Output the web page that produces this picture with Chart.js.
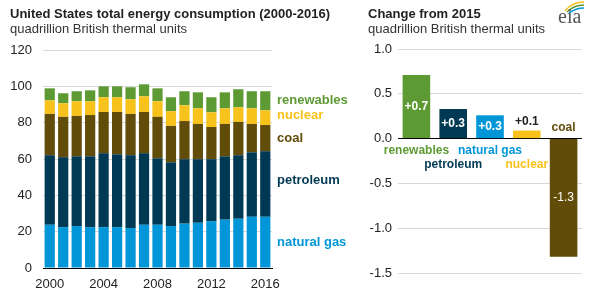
<!DOCTYPE html>
<html>
<head>
<meta charset="utf-8">
<script src="https://cdn.jsdelivr.net/npm/chart.js@4.4.1/dist/chart.umd.min.js"></script>
<style>
  body { margin: 0; background: #fff; font-family: "Liberation Sans", Arial, sans-serif; }
  #wrap { position: relative; width: 593px; height: 296px; overflow: hidden; }
  .title { position: absolute; font-weight: bold; font-size: 13px; color: #222; line-height: 15px; white-space: nowrap; }
  .sub { position: absolute; font-size: 13px; color: #333; line-height: 15px; white-space: nowrap; }
  canvas { position: absolute; top: 0; }
</style>
</head>
<body>
<div id="wrap">
  <canvas id="leftChart" width="360" height="296" style="left:0"></canvas>
  <canvas id="rightChart" width="233" height="296" style="left:360px"></canvas>
  <div class="title" style="left:10px;top:6px">United States total energy consumption (2000-2016)</div>
  <div class="sub" style="left:10px;top:21px">quadrillion British thermal units</div>
  <div class="title" style="left:368px;top:6px">Change from 2015</div>
  <div class="sub" style="left:368px;top:21px">quadrillion British thermal units</div>
  <svg style="position:absolute;left:556px;top:0" width="32" height="26">
    <path d="M9 11 Q16 2 28 2" stroke="#f5c21b" stroke-width="1.6" fill="none"/>
    <path d="M11 12 Q18 5 28 5" stroke="#5d9732" stroke-width="1.6" fill="none"/>
    <path d="M13 13 Q20 8 28 8" stroke="#0096d7" stroke-width="1.6" fill="none"/>
    <text x="2" y="23" font-family="Liberation Serif, serif" font-size="20" fill="#555">eia</text>
  </svg>
</div>
<script>
// total consumption by source, quadrillion Btu
var years = ['2000', '2001', '2002', '2003', '2004', '2005', '2006', '2007', '2008',
             '2009', '2010', '2011', '2012', '2013', '2014', '2015', '2016'];
var natGas     = [23.8, 22.5, 23.1, 22.5, 22.5, 22.5, 22.0, 23.8, 23.8, 23.1, 24.4, 24.9, 25.8, 26.6, 27.1, 28.2, 28.2];
var petroleum  = [38.3, 38.5, 38.4, 39.0, 40.7, 40.1, 40.1, 39.4, 36.6, 35.1, 35.5, 35.0, 34.1, 34.9, 35.0, 35.5, 36.1];
var coal       = [22.7, 22.2, 22.2, 22.7, 22.7, 23.3, 22.7, 22.7, 22.8, 20.0, 21.0, 19.4, 17.7, 17.8, 18.3, 15.6, 14.4];
var nuclear    = [7.5, 7.5, 8.1, 7.6, 8.1, 8.1, 8.1, 8.6, 8.6, 8.1, 8.7, 8.6, 8.1, 8.6, 8.1, 8.6, 8.1];
var renewables = [6.6, 5.5, 5.5, 6.0, 6.0, 6.0, 6.6, 6.6, 7.1, 7.7, 7.7, 8.8, 8.3, 8.8, 9.9, 9.4, 10.5];

// change from 2015
var changeCats   = ['renewables', 'petroleum', 'natural gas', 'nuclear', 'coal'];
var changeValues = [0.71, 0.33, 0.26, 0.09, -1.32];

var fam = '"Liberation Sans", Arial, sans-serif';
var colors = {
    'natural gas': '#0096d7',
    'petroleum': '#003953',
    'coal': '#624c09',
    'nuclear': '#f6c21b',
    'renewables': '#5e9a34'
};

// series names to the right of the last stacked bar
var seriesLabels = {
    id: 'seriesLabels',
    afterDatasetsDraw: function(chart) {
        var ctx = chart.ctx;
        var nudge = { 'nuclear': -2, 'petroleum': -4 };
        ctx.save();
        ctx.font = 'bold 13px ' + fam;
        ctx.textAlign = 'left';
        ctx.textBaseline = 'middle';
        chart.data.datasets.forEach(function(ds, i) {
            var meta = chart.getDatasetMeta(i);
            var bar = meta.data[meta.data.length - 1];
            ctx.fillStyle = ds.backgroundColor;
            ctx.fillText(ds.label, chart.chartArea.right + 5, (bar.y + bar.base) / 2 + (nudge[ds.label] || 0));
        });
        ctx.restore();
    }
};

new Chart(document.getElementById('leftChart'), {
    type: 'bar',
    data: {
        labels: years,
        datasets: [
            { label: 'natural gas', data: natGas, backgroundColor: colors['natural gas'] },
            { label: 'petroleum', data: petroleum, backgroundColor: colors['petroleum'] },
            { label: 'coal', data: coal, backgroundColor: colors['coal'] },
            { label: 'nuclear', data: nuclear, backgroundColor: colors['nuclear'] },
            { label: 'renewables', data: renewables, backgroundColor: colors['renewables'] }
        ]
    },
    options: {
        responsive: false,
        animation: false,
        devicePixelRatio: 1,
        layout: { padding: { left: 10, right: 88, top: 50, bottom: 2 } },
        plugins: { legend: { display: false }, tooltip: { enabled: false } },
        datasets: { bar: { categoryPercentage: 1, barPercentage: 0.76 } },
        scales: {
            x: {
                stacked: true,
                grid: { display: false, drawTicks: false },
                border: { color: '#000', width: 1 },
                ticks: {
                    autoSkip: false, maxRotation: 0, padding: 9, color: '#222',
                    font: { size: 13, family: fam },
                    callback: function(v, i) { return i % 4 === 0 ? this.getLabelForValue(v) : ''; }
                },
                afterFit: function(s) { s.height = 26; }
            },
            y: {
                stacked: true, min: 0, max: 120,
                ticks: { stepSize: 20, padding: 11, color: '#222', font: { size: 13, family: fam } },
                grid: { drawTicks: false, color: function(c) { return c.tick.value === 0 ? '#000' : '#d9d9d9'; } },
                border: { display: false },
                afterFit: function(s) { s.width = 33; }
            }
        }
    },
    plugins: [seriesLabels]
});

// value labels and category names for the change chart
var changeLabels = {
    id: 'changeLabels',
    afterDatasetsDraw: function(chart) {
        var ctx = chart.ctx;
        var meta = chart.getDatasetMeta(0);
        var zero = chart.scales.y.getPixelForValue(0);
        ctx.save();
        ctx.textAlign = 'center';
        ctx.textBaseline = 'middle';
        meta.data.forEach(function(bar, i) {
            var v = changeValues[i];
            var txt = (v > 0 ? '+' : '') + v.toFixed(1);
            var h = Math.abs(bar.base - bar.y);
            if (h > 20) {
                ctx.font = (v > 0 ? 'bold ' : '') + '12px ' + fam;
                ctx.fillStyle = '#fff';
                ctx.fillText(txt, bar.x, (bar.y + bar.base) / 2);
            } else {
                ctx.font = 'bold 12px ' + fam;
                ctx.fillStyle = '#222';
                ctx.fillText(txt, bar.x, bar.y - 9);
            }
            ctx.font = 'bold 12px ' + fam;
            ctx.fillStyle = colors[changeCats[i]];
            if (v >= 0) {
                ctx.fillText(changeCats[i], bar.x, zero + (i % 2 ? 26 : 12));
            } else {
                ctx.fillText(changeCats[i], bar.x, zero - 11);
            }
        });
        ctx.restore();
    }
};

new Chart(document.getElementById('rightChart'), {
    type: 'bar',
    data: {
        labels: changeCats,
        datasets: [{
            label: 'change',
            data: changeValues,
            backgroundColor: changeCats.map(function(c) { return colors[c]; })
        }]
    },
    options: {
        responsive: false,
        animation: false,
        devicePixelRatio: 1,
        layout: { padding: { left: 10, right: 11, top: 49, bottom: 23 } },
        plugins: { legend: { display: false }, tooltip: { enabled: false } },
        datasets: { bar: { categoryPercentage: 1, barPercentage: 0.75 } },
        scales: {
            x: { display: false },
            y: {
                min: -1.5, max: 1.0,
                ticks: {
                    stepSize: 0.5, padding: 6, color: '#222', font: { size: 13, family: fam },
                    callback: function(v) { return v.toFixed(1); }
                },
                grid: { drawTicks: false, color: function(c) { return c.tick.value === 0 ? '#000' : '#d9d9d9'; } },
                border: { display: false },
                afterFit: function(s) { s.width = 28; }
            }
        }
    },
    plugins: [changeLabels]
});
</script>
</body>
</html>
